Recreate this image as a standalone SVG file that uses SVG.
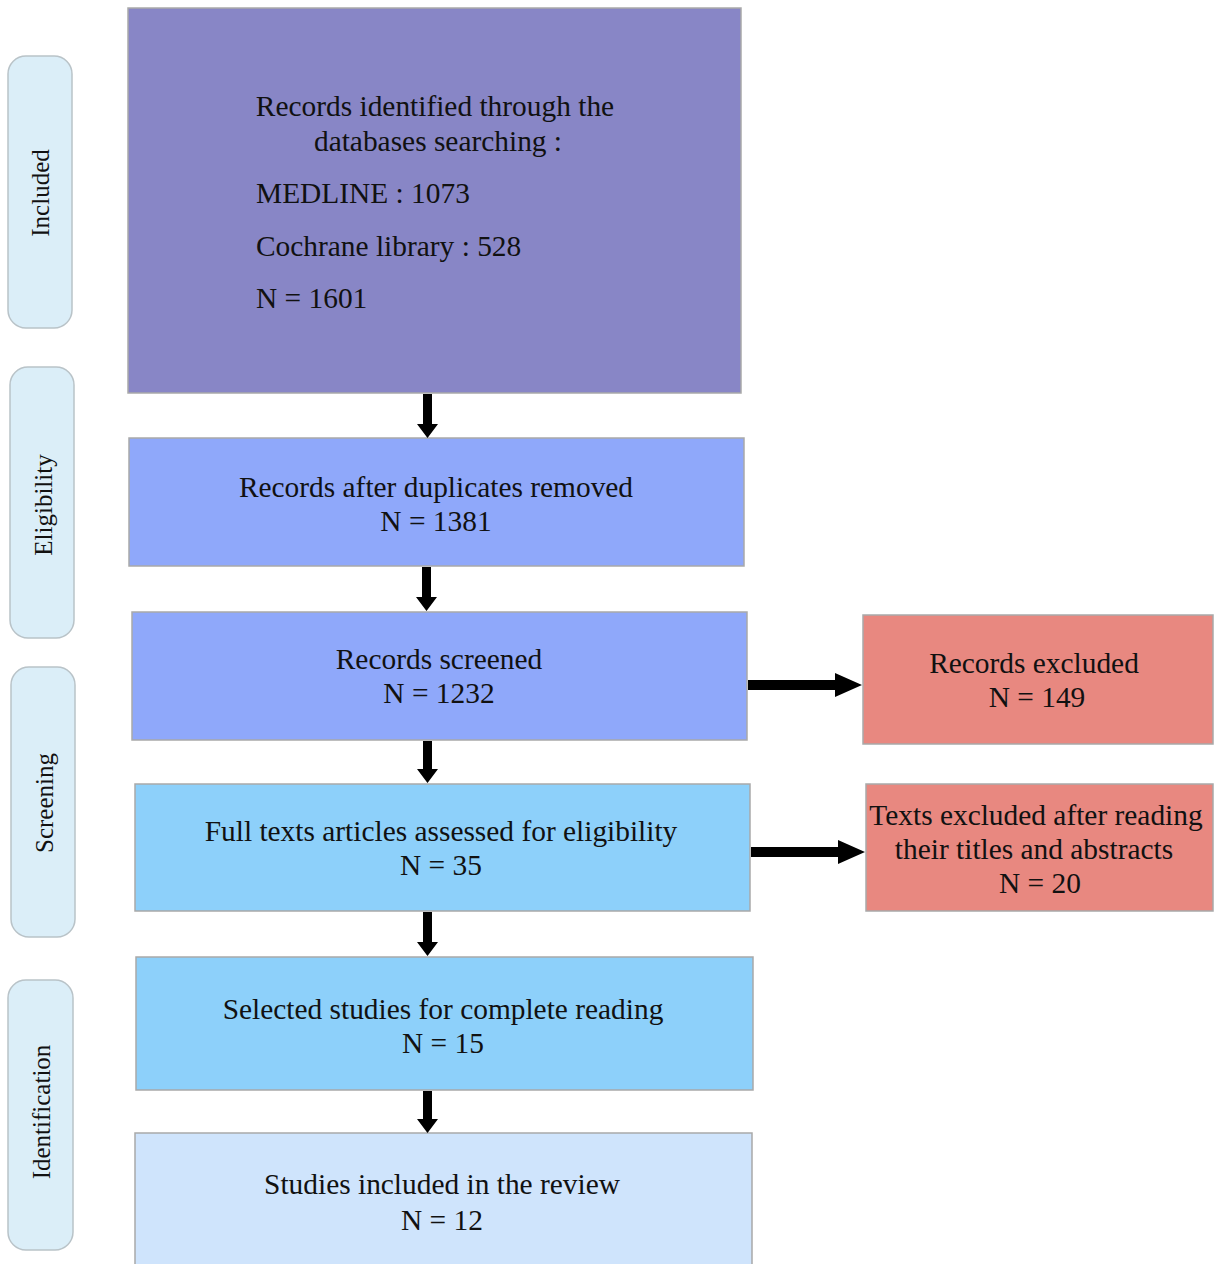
<svg xmlns="http://www.w3.org/2000/svg" width="1215" height="1264" viewBox="0 0 1215 1264">
<defs>
<style>
.box{stroke:#a9a9a9;stroke-width:1.5}
.side{fill:#dbeef8;stroke:#b9c3c8;stroke-width:1.5}
text{font-family:"Liberation Serif","Times New Roman",serif;fill:#111}
.t{font-size:29.4px;text-anchor:middle}
.tl{font-size:29.4px}
.s{font-size:25px;text-anchor:middle}
.arr{fill:#000}
</style>
</defs>
<rect width="1215" height="1264" fill="#fff"/>
<g id="side-included"><rect class="side" x="8" y="56" width="64" height="272" rx="18"/><text class="s" transform="translate(49,193) rotate(-90)">Included</text></g>
<g id="side-eligibility"><rect class="side" x="10" y="367" width="64" height="271" rx="18"/><text class="s" transform="translate(52,505) rotate(-90)">Eligibility</text></g>
<g id="side-screening"><rect class="side" x="11" y="667" width="64" height="270" rx="18"/><text class="s" transform="translate(53,803) rotate(-90)">Screening</text></g>
<g id="side-identification"><rect class="side" x="8" y="980" width="65" height="270" rx="18"/><text class="s" transform="translate(50,1112) rotate(-90)">Identification</text></g>

<g id="n1"><rect class="box" x="128" y="8" width="613" height="385" fill="#8886c6"/>
<text class="t" x="435" y="116">Records identified through the</text>
<text class="t" x="438" y="151">databases searching :</text>
<text class="tl" x="256" y="203">MEDLINE : 1073</text>
<text class="tl" x="256" y="256">Cochrane library : 528</text>
<text class="tl" x="256" y="308">N = 1601</text></g>
<g id="n2"><rect class="box" x="129" y="438" width="615" height="128" fill="#8fa8fa"/>
<text class="t" x="436" y="497">Records after duplicates removed</text>
<text class="t" x="436" y="531">N = 1381</text></g>
<g id="n3"><rect class="box" x="132" y="612" width="615" height="128" fill="#8fa8fa"/>
<text class="t" x="439" y="669">Records screened</text>
<text class="t" x="439" y="703">N = 1232</text></g>
<g id="n4"><rect class="box" x="135" y="784" width="615" height="127" fill="#8dd0fa"/>
<text class="t" x="441" y="841">Full texts articles assessed for eligibility</text>
<text class="t" x="441" y="875">N = 35</text></g>
<g id="n5"><rect class="box" x="136" y="957" width="617" height="133" fill="#8dd0fa"/>
<text class="t" x="443" y="1019">Selected studies for complete reading</text>
<text class="t" x="443" y="1053">N = 15</text></g>
<g id="n6"><rect class="box" x="135" y="1133" width="617" height="140" fill="#cfe4fc"/>
<text class="t" x="442" y="1194">Studies included in the review</text>
<text class="t" x="442" y="1230">N = 12</text></g>
<g id="r1"><rect class="box" x="863" y="615" width="350" height="129" fill="#e88880"/>
<text class="t" x="1034" y="673">Records excluded</text>
<text class="t" x="1037" y="707">N = 149</text></g>
<g id="r2"><rect class="box" x="866" y="784" width="347" height="127" fill="#e88880"/>
<text class="t" x="1036" y="825">Texts excluded after reading</text>
<text class="t" x="1034" y="859">their titles and abstracts</text>
<text class="t" x="1040" y="893">N = 20</text></g>

<g id="connectors">
<path class="arr" d="M423,394 H432 V424 H438 L427.5,438 L417,424 H423 Z"/>
<path class="arr" d="M422,567 H431 V597 H437 L426.5,611 L416,597 H422 Z"/>
<path class="arr" d="M423,741 H432 V769 H438 L427.5,783 L417,769 H423 Z"/>
<path class="arr" d="M423,912 H432 V942 H438 L427.5,956 L417,942 H423 Z"/>
<path class="arr" d="M423,1091 H432 V1119 H438 L427.5,1133 L417,1119 H423 Z"/>
<path class="arr" d="M748,680 H835 V673 L862,685 L835,697 V690 H748 Z"/>
<path class="arr" d="M751,847 H838 V840 L865,852 L838,864 V857 H751 Z"/>
</g>
</svg>
